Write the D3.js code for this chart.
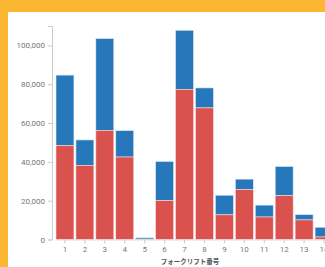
<!DOCTYPE html>
<html>
<head>
<meta charset="utf-8">
<script src="https://cdn.jsdelivr.net/npm/d3@7"></script>
<style>
body{margin:0;background:#fbb731;}
svg{display:block;}
</style>
</head>
<body>
<script>
// forklift ids and stacked values
const forklifts = ["1","2","3","4","5","6","7","8","9","10","11","12","13","14"]
const redVals   = [48300,38200,56200,42500,200,20050,77300,67800,12700,25700,11600,22600,10100,1300]
const totalVals = [84700,51300,103500,56100,900,40200,107800,78100,22800,31100,17700,37600,12800,6300]
const yTicks    = [0,20000,40000,60000,80000,100000]
const xTitle    = "フォークリフト番号"

const W = 325, H = 267

let svg = d3.select("body").append("svg")
	.attr("width",W)
	.attr("height",H)

// yellow frame, white panel
svg.append("rect")
	.attr("x",8).attr("y",12)
	.attr("width",W-8).attr("height",H-12)
	.attr("fill","#fff")

let x = d3.scaleBand()
	.domain(forklifts)
	.range([55,334])
	.paddingInner(0.1)
	.paddingOuter(0.05)

let y = d3.scaleLinear()
	.domain([0,110000])
	.range([239.5,26])

let g = svg.append("g")

forklifts.forEach((f,i) =>{
	// blue = remainder on top
	g.append("rect")
		.attr("x",x(f))
		.attr("y",y(totalVals[i]))
		.attr("width",x.bandwidth())
		.attr("height",y(redVals[i]) - y(totalVals[i]))
		.attr("fill","#2777bb")
		.attr("stroke","#dbe7f3")
		.attr("stroke-width",0.6)
	g.append("rect")
		.attr("x",x(f))
		.attr("y",y(redVals[i]))
		.attr("width",x.bandwidth())
		.attr("height",y(0) - y(redVals[i]))
		.attr("fill","#d9524e")
		.attr("stroke","#f3dcdb")
		.attr("stroke-width",0.6)
})

// y axis
let yAxis = svg.append("g")
	.attr("transform","translate(52,0)")
	.call(d3.axisLeft(y).tickValues(yTicks).tickFormat(d3.format(",")).tickSize(4).tickPadding(3))
yAxis.select(".domain").attr("stroke","#ccc")
yAxis.selectAll(".tick line").attr("stroke","#ccc")
yAxis.selectAll("text")
	.attr("fill","#777")
	.style("font-family","Roboto, 'Noto Sans', sans-serif")
	.style("font-size","8px")

// x axis
let xAxis = svg.append("g")
	.attr("transform","translate(0,239.5)")
	.call(d3.axisBottom(x).tickSize(4).tickPadding(3).tickSizeOuter(0))
xAxis.select(".domain").attr("stroke","#ddd")
xAxis.selectAll(".tick line").attr("stroke","#ccc")
xAxis.selectAll("text")
	.attr("fill","#777")
	.style("font-family","Roboto, 'Noto Sans', sans-serif")
	.style("font-size","8px")

svg.append("text")
	.attr("x",190)
	.attr("y",264)
	.attr("text-anchor","middle")
	.attr("fill","#555")
	.style("font-family","'Noto Sans CJK JP', sans-serif")
	.style("font-size","6.5px")
	.style("font-weight","bold")
	.text(xTitle)
</script>
</body>
</html>
